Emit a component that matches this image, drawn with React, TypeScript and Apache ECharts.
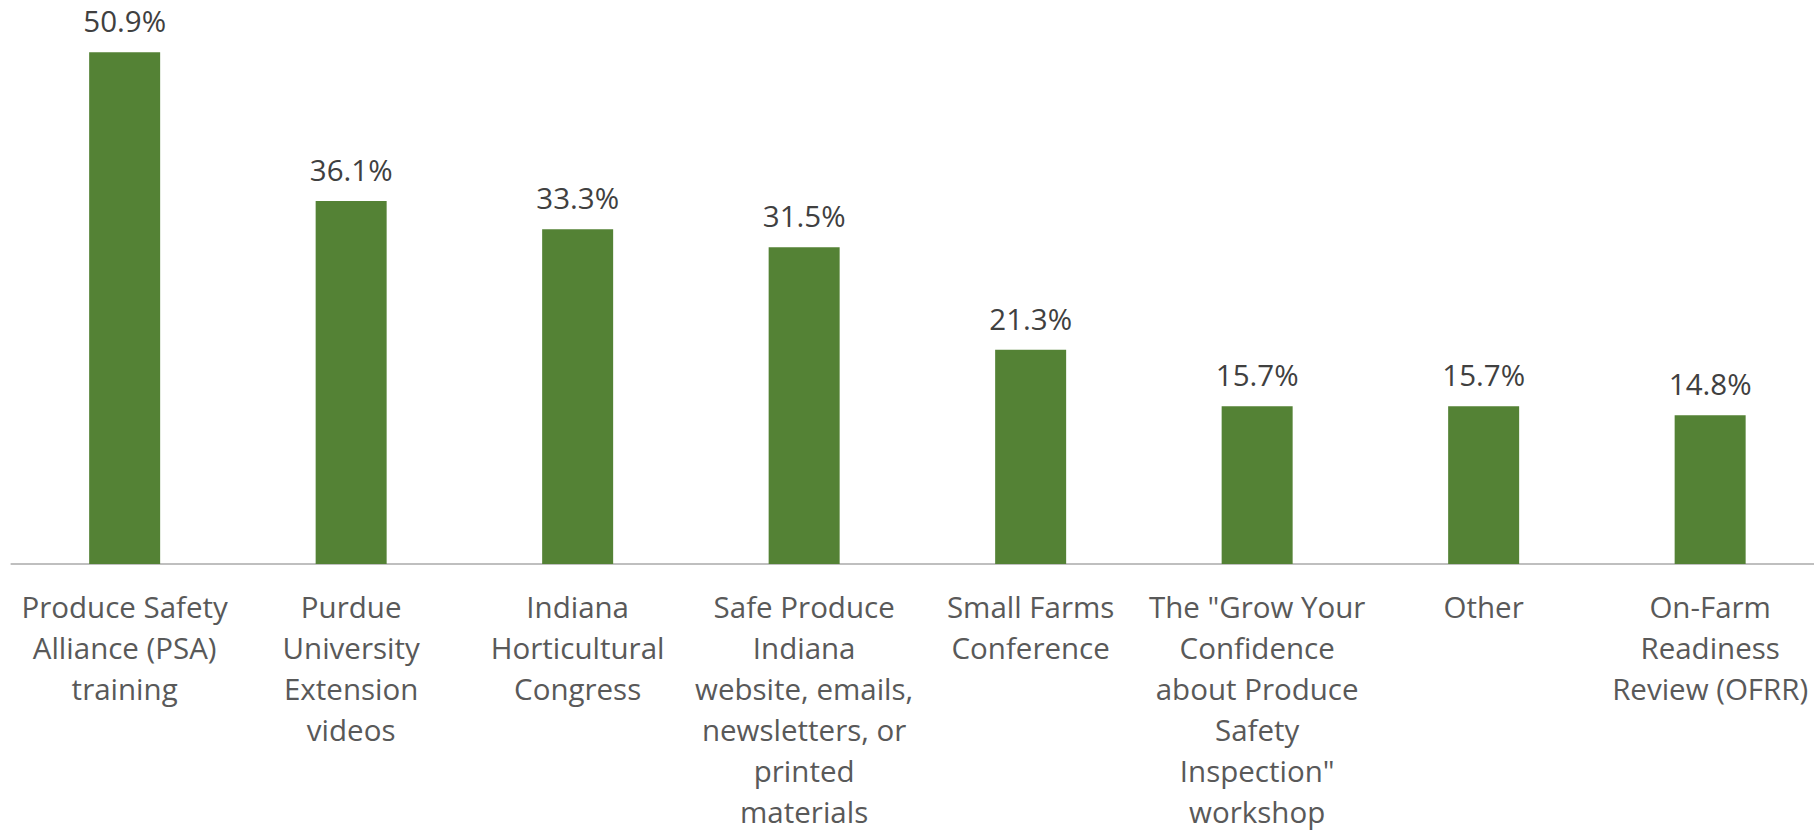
import React, { useEffect, useRef } from "react";
import * as echarts from "echarts";

const categories: string[] = [
  "Produce Safety\nAlliance (PSA)\ntraining",
  "Purdue\nUniversity\nExtension\nvideos",
  "Indiana\nHorticultural\nCongress",
  "Safe Produce\nIndiana\nwebsite, emails,\nnewsletters, or\nprinted\nmaterials",
  "Small Farms\nConference",
  "The \"Grow Your\nConfidence\nabout Produce\nSafety\nInspection\"\nworkshop",
  "Other",
  "On-Farm\nReadiness\nReview (OFRR)",
];

const values: number[] = [50.9, 36.1, 33.3, 31.5, 21.3, 15.7, 15.7, 14.8];

const FONT = "'Open Sans', 'Noto Sans', sans-serif";

export default function App() {
  const ref = useRef<HTMLDivElement>(null);
  useEffect(() => {
    if (!ref.current) return;
    const chart = echarts.init(ref.current, undefined, { renderer: "svg" });
    chart.setOption({
      animation: false,
      backgroundColor: "#ffffff",
      grid: { left: 11.4, width: 1812, top: 11, bottom: 267, containLabel: false },
      xAxis: {
        type: "category",
        data: categories,
        axisLine: { show: true, lineStyle: { color: "#BFBFBF", width: 2 } },
        axisTick: { show: false },
        axisLabel: {
          interval: 0,
          color: "#595959",
          fontFamily: FONT,
          fontSize: 29.5,
          lineHeight: 41,
          margin: 22,
          align: "center",
        },
      },
      yAxis: {
        type: "value",
        min: 0,
        max: 55,
        show: false,
        splitLine: { show: false },
      },
      series: [
        {
          type: "bar",
          data: values,
          barWidth: 71,
          itemStyle: { color: "#548235" },
          label: {
            show: true,
            position: "top",
            distance: 16.5,
            color: "#404040",
            fontFamily: FONT,
            fontSize: 29.5,
            formatter: (p: any) => p.value.toFixed(1) + "%",
          },
        },
      ],
    });
    return () => chart.dispose();
  }, []);
  return (
    <div style={{ position: "fixed", left: 0, top: 0, width: 1814, height: 832, overflow: "hidden", background: "#fff" }}>
      <div ref={ref} style={{ width: 1830, height: 832 }} />
    </div>
  );
}
